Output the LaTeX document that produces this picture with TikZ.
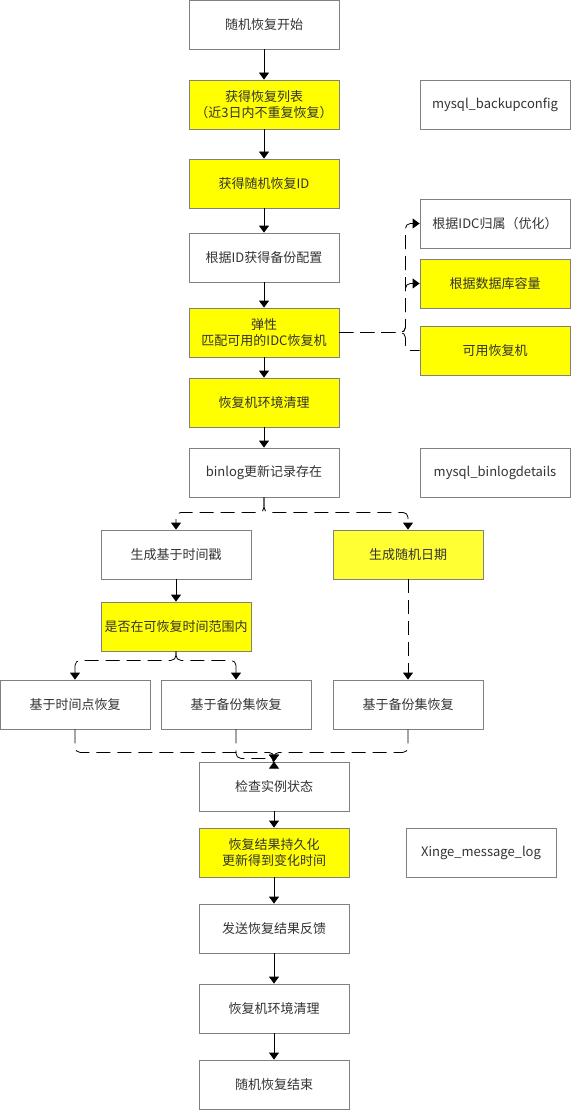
\documentclass[tikz,border=0pt]{standalone}
\usepackage{fontspec}
\setmainfont{Noto Sans CJK SC}
\usetikzlibrary{arrows.meta}
\definecolor{boxgray}{HTML}{808080}
\definecolor{hiyellow}{HTML}{FFFF00}
\definecolor{softyellow}{HTML}{FFFF33}
\definecolor{textgray}{HTML}{333333}

\begin{document}
\begin{tikzpicture}[x=1pt, y=-1pt, font=\fontsize{13}{16}\selectfont,
  stage/.style={draw=boxgray, line width=0.8pt, minimum width=150pt,
               minimum height=49pt, align=center, fill=#1, inner sep=0pt,
               text=textgray},
  stage/.default=white,
  flow/.style={draw=black, line width=0.8pt, -{Triangle[width=10pt,length=7pt]}},
  loose/.style={flow, dash pattern=on 14pt off 7pt, rounded corners=5pt}
]
  \useasboundingbox (0,0) rectangle (571,1110);

  % main column
  \node[stage]           (start)   at (264,24.5)  {随机恢复开始};
  \node[stage=hiyellow]  (list)    at (264,104.5) {获得恢复列表\\（近3日内不重复恢复）};
  \node[stage=hiyellow]  (pickid)  at (264,183.5) {获得随机恢复ID};
  \node[stage]           (config)  at (264,257.5) {根据ID获得备份配置};
  \node[stage=hiyellow]  (match)   at (264,332.5) {弹性\\匹配可用的IDC恢复机};
  \node[stage=hiyellow]  (cleanA)  at (264,402.5) {恢复机环境清理};
  \node[stage]           (binlog)  at (264,472.5) {binlog更新记录存在};

  % side boxes
  \node[stage]           (cfgtab)  at (495,104.5) {mysql\_backupconfig};
  \node[stage]           (byidc)   at (495,223.5) {根据IDC归属（优化）};
  \node[stage=hiyellow]  (bysize)  at (495,283.5) {根据数据库容量};
  \node[stage=hiyellow]  (avail)   at (495,350.5) {可用恢复机};
  \node[stage]           (bintab)  at (495,472.5) {mysql\_binlogdetails};

  % branches
  \node[stage]           (stamp)   at (176,554.5) {生成基于时间戳};
  \node[stage=softyellow](rdate)   at (408,554.5) {生成随机日期};
  \node[stage=hiyellow]  (inrange) at (176,626.5) {是否在可恢复时间范围内};
  \node[stage]           (pitr)    at (75,704.5)  {基于时间点恢复};
  \node[stage]           (bkA)     at (236,704.5) {基于备份集恢复};
  \node[stage]           (bkB)     at (408,704.5) {基于备份集恢复};

  % tail
  \node[stage]           (check)   at (274,786.5)  {检查实例状态};
  \node[stage=hiyellow]  (persist) at (274,852.5)  {恢复结果持久化\\更新得到变化时间};
  \node[stage]           (msgtab)  at (481,852.5)  {Xinge\_message\_log};
  \node[stage]           (notify)  at (274,928.5)  {发送恢复结果反馈};
  \node[stage]           (cleanB)  at (274,1008.5) {恢复机环境清理};
  \node[stage]           (finish)  at (274,1084.5) {随机恢复结束};

  \draw[flow] (start) -- (list);
  \draw[flow] (list) -- (pickid);
  \draw[flow] (pickid) -- (config);
  \draw[flow] (config) -- (match);
  \draw[flow] (match) -- (cleanA);
  \draw[flow] (cleanA) -- (binlog);

  \draw[loose] (match.east) -- ++(66,0) |- (byidc.west);
  \draw[loose] (match.east) -- ++(66,0) |- (bysize.west);
  \draw[loose, -] (match.east) -- ++(66,0) |- (avail.west);

  \draw[loose] (binlog.south) -- ++(0,15) -| (stamp.north);
  \draw[loose] (binlog.south) -- ++(0,15) -| (rdate.north);
  \draw[flow] (stamp) -- (inrange);
  \draw[loose] (inrange.south) -- ++(0,9) -| (pitr.north);
  \draw[loose] (inrange.south) -- ++(0,9) -| (bkA.north);
  \draw[loose] (rdate) -- (bkB);

  \draw[loose] (pitr.south) -- ++(0,23) -| (check.north);
  \draw[loose] (bkA.south) -- ++(0,29) -| (check.north);
  \draw[loose] (bkB.south) -- ++(0,23) -| (check.north);

  \draw[flow] (check) -- (persist);
  \draw[flow] (persist) -- (notify);
  \draw[flow] (notify) -- (cleanB);
  \draw[flow] (cleanB) -- (finish);
\end{tikzpicture}
\end{document}
